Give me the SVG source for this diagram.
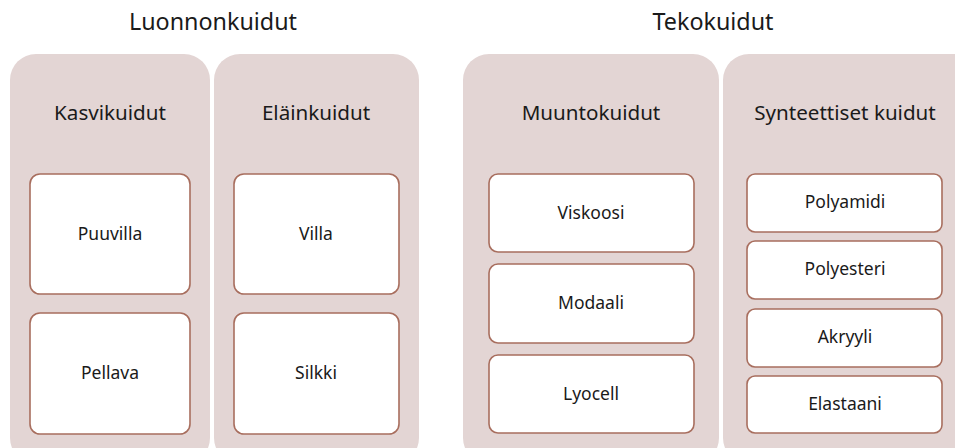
<svg xmlns="http://www.w3.org/2000/svg" width="955" height="448" viewBox="0 0 955 448">
<style>
.panel{fill:#e3d5d4;}
.box{fill:#ffffff;stroke:#a86e5e;stroke-width:1.6;}
.title{font-family:"Noto Sans","Open Sans",sans-serif;font-size:23.3px;fill:#1a1a1a;text-anchor:middle;}
.head{font-family:"Noto Sans","Open Sans",sans-serif;font-size:20.6px;fill:#1a1a1a;text-anchor:middle;}
.item{font-family:"Noto Sans","Open Sans",sans-serif;font-size:17.5px;fill:#1a1a1a;text-anchor:middle;}
</style>
<rect width="955" height="448" fill="#ffffff"/>
<text class="title" x="213" y="30">Luonnonkuidut</text>
<text class="title" x="713" y="30">Tekokuidut</text>
<g id="kasvikuidut">
<rect class="panel" x="10" y="54" width="200" height="410" rx="26"/>
<text class="head" x="110" y="120">Kasvikuidut</text>
</g>
<g id="elainkuidut">
<rect class="panel" x="214" y="54" width="205" height="410" rx="26"/>
<text class="head" x="316" y="120">Eläinkuidut</text>
</g>
<g id="muuntokuidut">
<rect class="panel" x="463" y="54" width="256" height="410" rx="26"/>
<text class="head" x="591" y="120">Muuntokuidut</text>
</g>
<g id="synteettiset">
<rect class="panel" x="723" y="54" width="260" height="410" rx="26"/>
<text class="head" x="845" y="120">Synteettiset kuidut</text>
</g>
<g id="puuvilla"><rect class="box" x="30" y="174" width="160" height="120" rx="10"/><text class="item" x="110" y="240">Puuvilla</text></g>
<g id="pellava"><rect class="box" x="30" y="313" width="160" height="121" rx="10"/><text class="item" x="110" y="379">Pellava</text></g>
<g id="villa"><rect class="box" x="234" y="174" width="165" height="120" rx="10"/><text class="item" x="316" y="240">Villa</text></g>
<g id="silkki"><rect class="box" x="234" y="313" width="165" height="121" rx="10"/><text class="item" x="316" y="379">Silkki</text></g>
<g id="viskoosi"><rect class="box" x="489" y="174" width="205" height="78" rx="9"/><text class="item" x="591" y="219">Viskoosi</text></g>
<g id="modaali"><rect class="box" x="489" y="264" width="205" height="79" rx="9"/><text class="item" x="591" y="309">Modaali</text></g>
<g id="lyocell"><rect class="box" x="489" y="355" width="205" height="78" rx="9"/><text class="item" x="591" y="400">Lyocell</text></g>
<g id="polyamidi"><rect class="box" x="747" y="174" width="195" height="58" rx="8"/><text class="item" x="845" y="208">Polyamidi</text></g>
<g id="polyesteri"><rect class="box" x="747" y="241" width="195" height="58" rx="8"/><text class="item" x="845" y="275">Polyesteri</text></g>
<g id="akryyli"><rect class="box" x="747" y="309" width="195" height="58" rx="8"/><text class="item" x="845" y="343">Akryyli</text></g>
<g id="elastaani"><rect class="box" x="747" y="376" width="195" height="57" rx="8"/><text class="item" x="845" y="410">Elastaani</text></g>
<g id="connectors"></g>
</svg>
